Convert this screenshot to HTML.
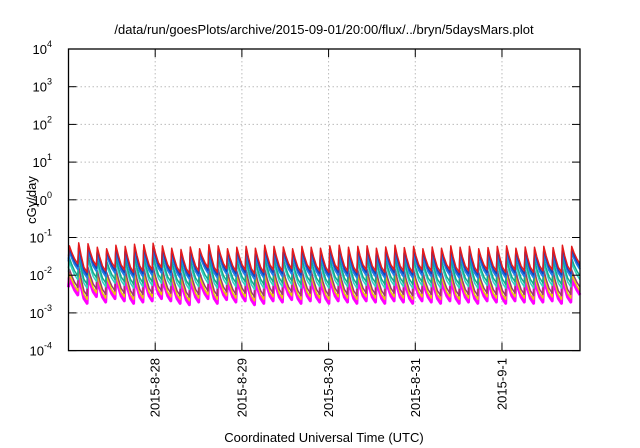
<!DOCTYPE html>
<html><head><meta charset="utf-8"><style>
body{margin:0;background:#fff}
svg{display:block;font-family:"Liberation Sans",sans-serif}
</style></head><body>
<svg id="chart" width="640" height="448" viewBox="0 0 640 448">
<text x="324" y="34" font-size="13" text-anchor="middle">/data/run/goesPlots/archive/2015-09-01/20:00/flux/../bryn/5daysMars.plot</text>
<text x="324" y="442" font-size="13" text-anchor="middle">Coordinated Universal Time (UTC)</text>
<text transform="translate(36,200) rotate(-90)" font-size="13" text-anchor="middle">cGy/day</text>
<g id="grid"></g>
<g id="series"></g>
<g id="axes"></g>
</svg>
<script>
const xTickLabels=["2015-8-28","2015-8-29","2015-8-30","2015-8-31","2015-9-1"];
const xTickHours=[24,48,72,96,120];
const yTickExps=[-4,-3,-2,-1,0,1,2,3,4];
// per-cycle peak / trough of top (red) series, cGy/day
const cyclePeaks=[0.060,0.072,0.068,0.055,0.050,0.062,0.058,0.066,0.064,0.070,0.060,0.052,0.048,0.056,0.050,0.064,0.060,0.050,0.055,0.058,0.052,0.062,0.058,0.056,0.050,0.058,0.055,0.052,0.060,0.062,0.055,0.058,0.060,0.052,0.056,0.062,0.054,0.058,0.050,0.056,0.052,0.060,0.055,0.058,0.050,0.054,0.058,0.060,0.052,0.056,0.055,0.058,0.054,0.062,0.058];
const cycleTroughs=[0.020,0.012,0.018,0.013,0.016,0.014,0.012,0.013,0.014,0.016,0.014,0.012,0.011,0.013,0.016,0.012,0.015,0.013,0.014,0.011,0.012,0.014,0.013,0.015,0.012,0.014,0.013,0.012,0.014,0.013,0.012,0.014,0.013,0.012,0.014,0.013,0.012,0.014,0.013,0.012,0.014,0.012,0.013,0.012,0.014,0.013,0.012,0.014,0.013,0.012,0.013,0.014,0.012,0.013,0.020];
const seriesNames=["red","dark-blue","blue","teal","green","brown","yellow","magenta"];
const seriesFactors=[1.0,0.85,0.72,0.48,0.38,0.24,0.19,0.15];
const seriesColors=["#e41a1c","#1f3fb4","#1e7fe8","#14a88a","#2fd6c0","#9a3c6a","#e6d200","#ff00ff"];
const seriesWidths=[1.5,1.5,2,1.5,1.5,1.5,1.5,3];
const startHour=0,endHour=141.6,period=2.575;

const L=68.5,R=580,T=49,B=350.6;
const NS="http://www.w3.org/2000/svg";
const xs=h=>L+(h-startHour)/(endHour-startHour)*(R-L);
const ys=v=>T+(4-Math.log10(v))/8*(B-T);
function mk(tag,attrs,parent){const e=document.createElementNS(NS,tag);for(const k in attrs)e.setAttribute(k,attrs[k]);parent.appendChild(e);return e;}
const grid=document.getElementById('grid'),axes=document.getElementById('axes'),ser=document.getElementById('series');

yTickExps.forEach((e,i)=>{
  const y=T+(4-e)/8*(B-T);
  if(e>-4&&e<4){const g=mk('line',{x1:L,x2:R,y1:y,y2:y,stroke:'#bbb','stroke-dasharray':'1.5,2.5','stroke-width':1},grid);
  
  }
  const t1=mk('line',{x1:L,x2:L+8,y1:y,y2:y,stroke:'#000','stroke-width':1},axes);
  
  
  const t2=mk('line',{x1:R-8,x2:R,y1:y,y2:y,stroke:'#000','stroke-width':1},axes);
  
  
  const tx=mk('text',{x:52,y:y+5,'font-size':13,'text-anchor':'end'},axes);
  
  
  tx.appendChild(document.createTextNode('10'));
  const sp=mk('tspan',{dy:-7,'font-size':9},tx);sp.textContent=String(e);
});
xTickHours.forEach((h,i)=>{
  const x=xs(h);
  const g=mk('line',{x1:x,x2:x,y1:T,y2:B,stroke:'#bbb','stroke-dasharray':'1.5,2.5','stroke-width':1},grid);
  
  
  const t1=mk('line',{x1:x,x2:x,y1:B-8,y2:B,stroke:'#000','stroke-width':1},axes);
  
  
  const t2=mk('line',{x1:x,x2:x,y1:T,y2:T+8,stroke:'#000','stroke-width':1},axes);
  
  
  const tx=mk('text',{transform:`translate(${x+4.5},358) rotate(-90)`,'font-size':13,'text-anchor':'end'},axes);
  
  
  tx.textContent=xTickLabels[i];
});
const frame=mk('rect',{x:L,y:T,width:R-L,height:B-T,fill:'none',stroke:'#000','stroke-width':1.3},axes);



for(let s=seriesNames.length-1;s>=0;s--){
  const f=seriesFactors[s];let d='';
  cyclePeaks.forEach((p,c)=>{
    const t0=startHour+c*period,tr=cycleTroughs[c]*f,pk=p*f;
    const prevTr=c>0?cycleTroughs[c-1]*f:tr*1.6;
    const pts=[[t0,prevTr],[t0+0.25,pk],[t0+0.9,Math.sqrt(pk*tr)*1.15],[t0+1.7,tr*1.35],[t0+period,tr]];
    pts.forEach((q,k)=>{const hh=Math.min(q[0],endHour);d+=(c===0&&k===0?'M':'L')+xs(hh).toFixed(1)+','+ys(q[1]).toFixed(1);});
  });
  const p=mk('path',{d:d,fill:'none',stroke:seriesColors[s],'stroke-width':seriesWidths[s],'stroke-linejoin':'round'},ser);
  
  
}
</script>
</body></html>
